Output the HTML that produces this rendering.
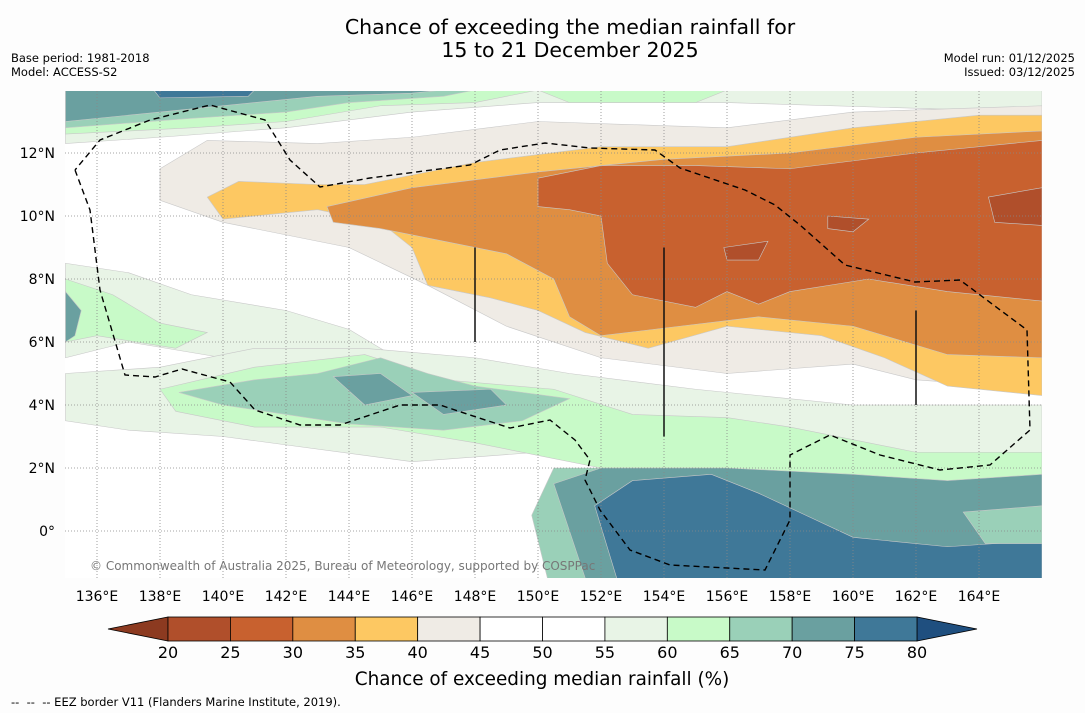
<!DOCTYPE html>
<html><head><meta charset="utf-8"><style>
body{margin:0;background:#fdfdfd;width:1085px;height:713px;overflow:hidden;font-family:"DejaVu Sans","Liberation Sans",sans-serif}
svg{position:absolute;left:0;top:0}
</style></head><body>
<svg id="s" width="1085" height="713" font-family="DejaVu Sans, Liberation Sans, sans-serif">
<text x="570" y="34" font-size="20.5" text-anchor="middle">Chance of exceeding the median rainfall for</text>
<text x="570" y="57" font-size="20.5" text-anchor="middle">15 to 21 December 2025</text>
<text x="11" y="62" font-size="11.5">Base period: 1981-2018</text>
<text x="11" y="76" font-size="11.5">Model: ACCESS-S2</text>
<text x="1075" y="62" font-size="11.5" text-anchor="end">Model run: 01/12/2025</text>
<text x="1075" y="76" font-size="11.5" text-anchor="end">Issued: 03/12/2025</text>
<defs><clipPath id="c"><rect x="65" y="91" width="977" height="487"/></clipPath></defs>
<g id="map" clip-path="url(#c)"><rect x="65" y="91" width="977" height="487" fill="#fff"/></g>
<g id="axes"></g>
<g id="cb"></g>
<text x="542" y="685" font-size="18.4" text-anchor="middle">Chance of exceeding median rainfall (%)</text>
<text x="11" y="706" font-size="11.5">-- &#160;-- &#160;-- EEZ border V11 (Flanders Marine Institute, 2019).</text>
</svg>
<script>
const levels=[20,25,30,35,40,45,50,55,60,65,70,75,80];
const binColors=["#b04f2b","#c8612f","#df8e42","#fdc862","#efebe5","#ffffff","#ffffff","#e8f4e6","#c8fac8","#9ad0b8","#6aa0a0","#3f7898"];
const lonTicks=[136,138,140,142,144,146,148,150,152,154,156,158,160,162,164];
const latTicks=[0,2,4,6,8,10,12];
const regions=[
 [57,[[135,14],[166,14],[166,13.3],[156,13.6],[150,13.6],[146,13.3],[142,12.8],[138,12.5],[135,12.3]]],
 [62,[[135,14],[150,14],[148,13.6],[145,13.5],[142,13],[139,12.8],[135,12.6]]],
 [67,[[135,14],[148,14],[147,13.8],[144,13.6],[142,13.3],[139,13.1],[135,12.8]]],
 [72,[[135,14],[147,14],[146,13.9],[143,13.8],[141,13.6],[138,13.3],[135,13]]],
 [77,[[137.8,14],[141,14],[140.8,13.8],[138,13.75]]],
 [62,[[150,14],[156,14],[155,13.6],[151,13.6]]],
 [57,[[135,8.5],[137,8.2],[139,7.5],[142,7],[144,6.4],[145.5,5.5],[144,5],[140,5.5],[137,6],[135,5.5]]],
 [62,[[135,8],[136.5,7.5],[138,6.6],[139.5,6.3],[138.5,5.8],[136,6.2],[135,6]]],
 [72,[[135,7.6],[135.5,7],[135.3,6.2],[135,6]]],
 [42,[[138,11.5],[139.5,12.4],[143,12.3],[146,12.5],[150,13],[156,12.8],[160,13.3],[166,13.5],[166,4.5],[162,4.8],[160,5.3],[156,5],[152,5.5],[149,6.5],[146.5,7.8],[144,9],[140,9.8],[138,10.5]]],
 [37,[[139.5,10.6],[140.5,11.1],[143,11],[144.5,11],[148,11.7],[152,12.2],[156,12.2],[160,12.8],[164,13.2],[166,13.2],[166,4.3],[163,4.6],[161,5.5],[159,6.2],[156,6.5],[153.5,5.8],[151.5,6.3],[150,7],[148.5,7.4],[146.5,7.8],[146,9],[145,9.8],[143,10.2],[140,9.9]]],
 [32,[[143.3,10.3],[146,10.9],[150,11.4],[154,11.8],[158,12],[162,12.5],[166,12.7],[166,5.5],[163,5.6],[160,6.5],[157,6.8],[154.5,6.5],[152,6.2],[151,6.8],[150.5,8],[149,8.8],[147,9.2],[145,9.6],[143.5,9.8]]],
 [27,[[150,11.2],[152,11.6],[155,11.6],[158,11.5],[162,12],[166,12.4],[166,7.3],[163,7.6],[160.5,8],[158,7.6],[157,7.2],[156,7.6],[155,7.1],[153,7.5],[152.2,8.5],[152,10],[151,10.2],[150,10.3]]],
 [22,[[164.3,10.6],[166,10.9],[166,9.7],[164.5,9.8]]],
 [22,[[155.9,9],[157.3,9.2],[157,8.6],[156,8.6]]],
 [22,[[159.2,10],[160.5,9.9],[160,9.5],[159.2,9.6]]],
 [57,[[135,5],[138,5.2],[141,5.8],[144.5,5.8],[148,5.5],[151,5],[155,4.5],[160,4],[166,4],[166,1],[160,1.6],[155,2.2],[150,2.5],[146,2.2],[140,3],[137,3.2],[135,3.5]]],
 [62,[[138,4.5],[141,5.2],[144.5,5.6],[147,4.8],[150.5,4.5],[153,3.7],[156,3.6],[158,3.3],[162,2.5],[166,2.5],[166,0.8],[160,1.4],[156,2],[152,2],[150,2.4],[148,2.8],[145,3.3],[141,3.3],[138.5,3.8]]],
 [67,[[138.6,4.4],[141,4.8],[143,5],[145,5.5],[146.5,5],[148,4.6],[151,4.2],[149.5,3.5],[147,3.2],[144,3.4],[142,3.7],[140,4]]],
 [72,[[143.5,4.9],[145,5],[146,4.3],[144.5,4]]],
 [72,[[146,4.4],[148.5,4.5],[149,4],[147,3.7]]],
 [67,[[150.5,2],[155,2],[160,1.6],[163,1.5],[166,1.7],[166,-1.5],[150.3,-1.5],[149.8,0.5]]],
 [72,[[150.5,1.5],[152,2],[156,2],[160,1.8],[163,1.6],[166,1.8],[166,-1.5],[151.5,-1.5]]],
 [77,[[151.8,0.8],[153,1.6],[155.5,1.8],[157,1.2],[158.5,0.5],[160,-0.2],[163,-0.5],[166,-0.3],[166,-1.5],[152.5,-1.5]]],
 [67,[[163.5,0.6],[166,0.8],[166,-0.4],[164.2,-0.4]]]
];
const eez=[[75,170],[90,210],[100,290],[125,375],[155,377],[182,369],[230,382],[255,410],[300,425],[340,425],[400,405],[440,405],[470,415],[510,428],[550,420],[575,440],[590,460],[585,480],[600,510],[630,550],[670,565],[765,570],[790,520],[790,455],[830,435],[880,455],[940,470],[990,465],[1030,430],[1027,330],[960,280],[915,282],[845,265],[800,225],[775,205],[745,190],[680,168],[655,150],[590,148],[545,143],[500,150],[470,165],[370,178],[320,187],[290,160],[265,120],[210,105],[150,120],[100,140],[75,170]];
const X=lon=>97+(lon-136)*31.5, Y=lat=>531-lat*31.5;
const NS="http://www.w3.org/2000/svg";
const colorFor=v=>{for(let i=0;i<levels.length-1;i++)if(v<levels[i+1])return binColors[i];return "#1f4f7f";};
const map=document.getElementById('map');
regions.forEach(r=>{const p=document.createElementNS(NS,'polygon');
p.setAttribute('points',r[1].map(q=>X(q[0])+','+Y(q[1])).join(' '));
p.setAttribute('fill',colorFor(r[0]));p.setAttribute('stroke','#c8c8c8');p.setAttribute('stroke-width','0.6');


map.appendChild(p);});
lonTicks.forEach(l=>{const g=document.createElementNS(NS,'line');g.setAttribute('x1',X(l));g.setAttribute('x2',X(l));g.setAttribute('y1',91);g.setAttribute('y2',578);g.setAttribute('stroke','#888');g.setAttribute('stroke-dasharray','1,2');g.setAttribute('stroke-width','0.8');


map.appendChild(g);});
latTicks.forEach(l=>{const g=document.createElementNS(NS,'line');g.setAttribute('y1',Y(l));g.setAttribute('y2',Y(l));g.setAttribute('x1',65);g.setAttribute('x2',1042);g.setAttribute('stroke','#888');g.setAttribute('stroke-dasharray','1,2');g.setAttribute('stroke-width','0.8');


map.appendChild(g);});
[[148,9],[148,6],[154,9],[154,3],[162,7],[162,4]].forEach((c,i,arr)=>{if(i%2==0){const l=document.createElementNS(NS,'line');l.setAttribute('x1',X(c[0]));l.setAttribute('x2',X(c[0]));l.setAttribute('y1',Y(c[1]));l.setAttribute('y2',Y(arr[i+1][1]));l.setAttribute('stroke','#111');l.setAttribute('stroke-width','1.5');


map.appendChild(l);}});
const e=document.createElementNS(NS,'polyline');e.setAttribute('points',eez.map(p=>p.join(',')).join(' '));e.setAttribute('fill','none');e.setAttribute('stroke','#000');e.setAttribute('stroke-width','1.4');e.setAttribute('stroke-dasharray','6,4');


map.appendChild(e);
const cp=document.createElementNS(NS,'text');cp.setAttribute('x',90);cp.setAttribute('y',570);cp.setAttribute('font-size','12');cp.setAttribute('fill','#777');cp.textContent='© Commonwealth of Australia 2025, Bureau of Meteorology, supported by COSPPac';


map.appendChild(cp);
const ax=document.getElementById('axes');
lonTicks.forEach(l=>{const t=document.createElementNS(NS,'text');t.setAttribute('x',X(l));t.setAttribute('y',601);t.setAttribute('font-size','14');t.setAttribute('text-anchor','middle');t.textContent=l+'°E';


ax.appendChild(t);});
latTicks.forEach(l=>{const t=document.createElementNS(NS,'text');t.setAttribute('x',55);t.setAttribute('y',Y(l)+5);t.setAttribute('font-size','14');t.setAttribute('text-anchor','end');t.textContent=l==0?'0°':l+'°N';


ax.appendChild(t);});
const cb=document.getElementById('cb');
const cx=v=>168+(v-20)*(917-168)/60;
const tri=(pts,fill)=>{const p=document.createElementNS(NS,'polygon');p.setAttribute('points',pts);p.setAttribute('fill',fill);p.setAttribute('stroke','#000');p.setAttribute('stroke-width','0.8');


cb.appendChild(p);};
tri(`108,629 ${cx(20)},617 ${cx(20)},641`,"#8c3a20");
tri(`977,629 ${cx(80)},617 ${cx(80)},641`,"#1f4f7f");
binColors.forEach((c,i)=>{const r=document.createElementNS(NS,'rect');r.setAttribute('x',cx(levels[i]));r.setAttribute('y',617);r.setAttribute('width',cx(levels[i+1])-cx(levels[i]));r.setAttribute('height',24);r.setAttribute('fill',c);r.setAttribute('stroke','#000');r.setAttribute('stroke-width','0.8');


cb.appendChild(r);});
levels.forEach(v=>{const t=document.createElementNS(NS,'text');t.setAttribute('x',cx(v));t.setAttribute('y',658);t.setAttribute('font-size','16');t.setAttribute('text-anchor','middle');t.textContent=v;


cb.appendChild(t);});
</script>
</body></html>
